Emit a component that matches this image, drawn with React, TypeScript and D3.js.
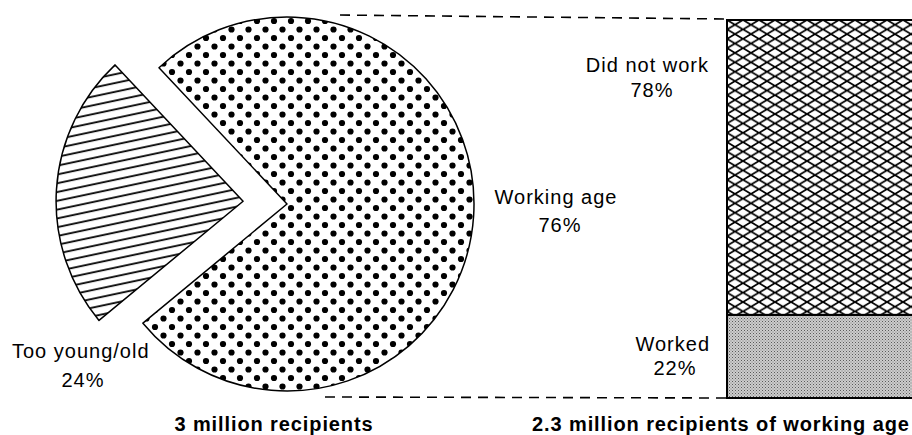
import { Component, createRef } from 'react';
import * as d3 from 'd3';

const pieLabels = ['Working age', 'Too young/old'];
const pieValues = [76, 24];
const barLabels = ['Worked', 'Did not work'];
const barValues = [22, 78];
const pieTitle = '3 million recipients';
const barTitle = '2.3 million recipients of working age';

const W = 912, H = 435;
const font = 'Arial, "Liberation Sans", Helvetica, sans-serif';

class RecipientsChart extends Component {
    ref = createRef<HTMLDivElement>();

    componentDidMount() {
        this.draw();
    }

    draw() {
        let svg = d3.select(this.ref.current).select('svg');
        svg.selectAll('*').remove();
        svg.attr('width', W).attr('height', H);

        // patterns
        let defs = svg.append('defs');
        let dots = defs.append('pattern')
            .attr('id', 'dots').attr('patternUnits', 'userSpaceOnUse')
            .attr('width', 17).attr('height', 17);
        dots.append('rect').attr('width', 17).attr('height', 17).attr('fill', '#fff');
        dots.append('circle').attr('cx', 4).attr('cy', 4).attr('r', 3.1).attr('fill', '#000');
        dots.append('circle').attr('cx', 12.5).attr('cy', 12.5).attr('r', 3.1).attr('fill', '#000');

        let hatch = defs.append('pattern')
            .attr('id', 'hatch').attr('patternUnits', 'userSpaceOnUse')
            .attr('width', 20).attr('height', 8.6)
            .attr('patternTransform', 'rotate(-12)');
        hatch.append('rect').attr('width', 20).attr('height', 8.6).attr('fill', '#fff');
        hatch.append('line').attr('x1', 0).attr('x2', 20).attr('y1', 4).attr('y2', 4)
            .attr('stroke', '#000').attr('stroke-width', 1.8);

        let cross = defs.append('pattern')
            .attr('id', 'cross').attr('patternUnits', 'userSpaceOnUse')
            .attr('x', 727).attr('y', 20)
            .attr('width', 16).attr('height', 9.4);
        cross.append('rect').attr('width', 16).attr('height', 9.4).attr('fill', '#fff');
        cross.append('path').attr('d', 'M0,0L16,9.4M0,9.4L16,0')
            .attr('stroke', '#000').attr('stroke-width', 1.8);

        let grain = defs.append('pattern')
            .attr('id', 'grain').attr('patternUnits', 'userSpaceOnUse')
            .attr('width', 3).attr('height', 3);
        grain.append('rect').attr('width', 3).attr('height', 3).attr('fill', '#cdcdcd');
        grain.append('rect').attr('x', 0).attr('y', 0).attr('width', 1).attr('height', 1).attr('fill', '#5a5a5a');
        grain.append('rect').attr('x', 1.5).attr('y', 1.5).attr('width', 1).attr('height', 1).attr('fill', '#7a7a7a');

        // pie
        const cx = 287, cy = 204, r = 187, explode = 44;
        const fills = ['url(#dots)', 'url(#hatch)'];
        const slicePad = (1 - pieValues[0] / 100) * Math.PI;
        let pie = d3.pie<number>().sort(null)
            .startAngle(-slicePad)
            .endAngle(2 * Math.PI - slicePad);
        let arc = d3.arc<d3.PieArcDatum<number>>().innerRadius(0).outerRadius(r);
        let arcs = pie(pieValues);

        let g = svg.append('g').attr('transform', 'translate(' + cx + ',' + cy + ')');
        g.selectAll('.slice')
            .data(arcs)
            .enter()
        .append('path')
            .attr('class', 'slice')
            .attr('d', arc)
            .attr('transform', function(d, i) {
                if (i === 0) return null;
                let a = (d.startAngle + d.endAngle) / 2;
                return 'translate(' + (Math.sin(a) * explode) + ',' + (-Math.cos(a) * explode) + ')';
            })
            .attr('fill', function(d, i) { return fills[i]; })
            .attr('stroke', '#000')
            .attr('stroke-width', 1.5)
            .attr('stroke-linejoin', 'round');

        // bar
        const bx = 727;
        let y = d3.scaleLinear().domain([0, 100]).range([398, 20]);
        let stacked = d3.cumsum(barValues);
        let barFills = ['url(#grain)', 'url(#cross)'];
        svg.selectAll('.seg')
            .data(barValues)
            .enter()
        .append('rect')
            .attr('class', 'seg')
            .attr('x', bx)
            .attr('y', function(d, i) { return y(stacked[i]); })
            .attr('width', W - bx + 10)
            .attr('height', function(d) { return y(0) - y(d); })
            .attr('fill', function(d, i) { return barFills[i]; })
            .attr('stroke', '#000')
            .attr('stroke-width', 2);

        // dashed connectors
        let dash = svg.append('g').attr('stroke', '#000').attr('stroke-width', 1.6)
            .attr('stroke-dasharray', '10,7');
        dash.append('line').attr('x1', 340).attr('y1', 15).attr('x2', bx).attr('y2', y(100) - 1);
        dash.append('line').attr('x1', 325).attr('y1', 397).attr('x2', bx).attr('y2', y(0));

        // labels
        let txt = svg.append('g')
            .style('font-family', font)
            .style('font-size', '20px')
            .style('letter-spacing', '1px')
            .attr('fill', '#000');
        const labelRows = [
            [barLabels[1], 709, 72, 'end'],
            [barValues[1] + '%', 652, 97, 'middle'],
            [pieLabels[0], 556, 204, 'middle'],
            [pieValues[0] + '%', 560, 232, 'middle'],
            [barLabels[0], 710, 351, 'end'],
            [barValues[0] + '%', 675, 375, 'middle'],
            [pieLabels[1], 12, 358, 'start'],
            [pieValues[1] + '%', 83, 387, 'middle'],
        ];
        for (let row of labelRows) {
            txt.append('text')
                .attr('x', row[1] as number)
                .attr('y', row[2] as number)
                .attr('text-anchor', row[3] as string)
                .text(row[0] as string);
        }

        let titles = svg.append('g')
            .style('font-family', font)
            .style('font-size', '20px')
            .style('font-weight', 'bold')
            .style('letter-spacing', '0.9px');
        titles.append('text').attr('x', 274).attr('y', 431).attr('text-anchor', 'middle').text(pieTitle);
        titles.append('text').attr('x', 532).attr('y', 431).attr('text-anchor', 'start').text(barTitle);
    }

    render() {
        return (
            <div ref={this.ref} style={{ position: 'absolute', left: 0, top: 0, width: W, height: H, background: '#fff' }}>
                <svg style={{ display: 'block' }} />
            </div>
        );
    }
}

export default function App() {
    return <RecipientsChart />;
}
